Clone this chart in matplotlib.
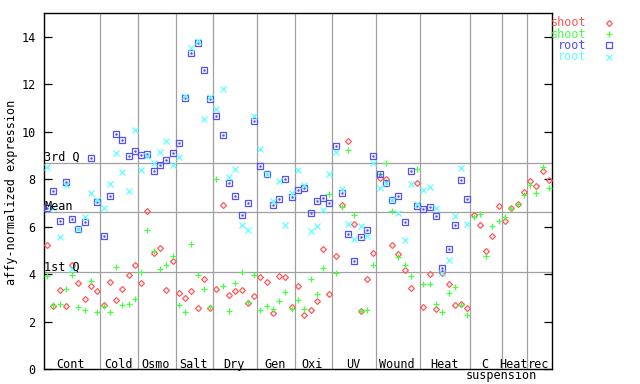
import matplotlib
matplotlib.use('Agg')
import matplotlib.pyplot as plt
from matplotlib.lines import Line2D
import numpy as np

plt.rcParams['font.family'] = ['DejaVu Sans Mono']

# groups of samples along x (shoot has all, root only up to Heat)
group_names = ['Cont', 'Cold', 'Osmo', 'Salt', 'Dry', 'Gen', 'Oxi', 'UV',
               'Wound', 'Heat', 'C', 'Heat', 'rec']
group_sizes = [9, 6, 6, 6, 7, 6, 6, 7, 7, 8, 5, 4, 4]

shoot_a = [5.22, 2.64, 3.33, 2.65, 4.39, 3.63, 2.95, 3.50, 3.29,
           2.68, 3.67, 2.91, 3.37, 3.95, 4.37,
           3.61, 6.65, 4.88, 5.09, 3.32, 4.54,
           3.19, 2.98, 3.28, 2.56, 3.78, 2.56,
           3.39, 6.90, 3.11, 3.28, 3.32, 2.76, 3.07,
           3.87, 3.66, 2.35, 3.91, 3.87, 2.61,
           3.49, 2.26, 2.47, 2.85, 5.05, 3.15,
           4.75, 6.90, 9.60, 6.10, 2.43, 3.78, 4.88,
           8.04, 8.00, 5.22, 4.84, 4.16, 3.40, 7.83,
           2.60, 3.99, 2.52, 4.03, 3.57, 2.69, 2.74, 2.56,
           6.49, 6.06, 4.96, 5.60, 6.86,
           6.23, 6.78, 6.97, 7.45,
           7.92, 7.70, 8.34, 7.96]
shoot_b = [3.91, 2.70, 2.74, 3.37, 3.95, 2.62, 2.49, 3.71, 2.40,
           2.65, 2.40, 4.29, 2.68, 2.74, 2.95,
           4.08, 5.85, 4.98, 4.20, 4.37, 4.75,
           2.70, 2.39, 5.26, 3.95, 3.36, 2.62,
           8.00, 3.49, 2.43, 3.61, 4.08, 2.83, 3.95,
           2.47, 2.65, 2.53, 2.85, 3.23, 2.52,
           2.90, 2.53, 3.78, 3.15, 4.25, 7.37,
           4.03, 6.84, 9.22, 6.48, 2.45, 2.47, 4.37,
           8.21, 8.67, 6.65, 4.71, 4.37, 3.91, 8.42,
           3.57, 3.57, 2.74, 2.39, 3.19, 3.44, 2.70, 2.26,
           6.40, 6.52, 4.75, 6.02, 6.23,
           6.40, 6.78, 6.95, 7.33,
           7.75, 7.41, 8.52, 7.62]
root_a = [6.78, 7.49, 6.23, 7.87, 6.31, 5.89, 6.19, 8.89, 7.04,
          5.60, 7.30, 9.90, 9.64, 8.97, 9.18,
          9.01, 9.05, 8.34, 8.59, 8.80, 9.10,
          9.52, 11.42, 13.31, 13.74, 12.60, 11.37,
          10.66, 9.86, 7.83, 7.28, 6.48, 6.99, 10.45,
          8.55, 8.21, 6.90, 7.16, 8.00, 7.24,
          7.54, 7.62, 6.57, 7.07, 7.20, 6.99,
          9.39, 7.41, 5.68, 4.55, 5.55, 5.85, 8.97,
          8.21, 7.83, 7.11, 7.28, 6.19, 8.34, 6.88,
          6.73, 6.82, 6.44, 4.25, 5.05, 6.06, 7.96, 7.16]
root_b = [8.52, 6.78, 5.57, 7.75, 4.22, 5.89, 6.40, 7.41, 7.13,
          6.78, 7.79, 9.10, 8.29, 7.49, 10.07,
          8.38, 8.97, 8.67, 9.14, 9.60, 8.59,
          8.93, 11.50, 13.53, 13.82, 10.53, 11.47,
          10.95, 11.80, 8.08, 8.42, 6.06, 5.85, 10.66,
          9.26, 8.21, 7.07, 7.92, 6.06, 7.41,
          8.38, 7.75, 5.81, 6.02, 6.69, 8.21,
          9.14, 7.58, 6.10, 5.47, 6.02, 5.60, 8.67,
          7.62, 7.83, 7.11, 6.57, 5.43, 7.79, 6.95,
          7.54, 7.66, 6.78, 4.03, 4.58, 6.44, 8.46, 6.10]

quart_names = ['3rd Q', 'Mean', '1st Q']
quart_vals = [8.69, 6.62, 4.09]

series = [
    ('shoot', shoot_a, '#ff5858', 'D', 3.0),
    ('shoot', shoot_b, '#48ff48', '+', 5.0),
    ('root', root_a, '#5050ff', 's', 3.8),
    ('root', root_b, '#60ffff', 'x', 4.0),
]

fs = 8.5
fig = plt.figure(figsize=(6.4, 3.84), dpi=100)
ax = fig.add_axes([44/640, 15/384, 508/640, 356/384])

n = sum(group_sizes)
bounds = np.cumsum(group_sizes)
grey = '#a0a0a0'
for b in bounds[:-1]:
    ax.axvline(b, color=grey, lw=0.9, zorder=1)
for name, v in zip(quart_names, quart_vals):
    ax.axhline(v, color=grey, lw=0.9, zorder=1)
    ax.text(0.05, v + 0.08, name, fontsize=fs, ha='left', va='baseline', zorder=5)

for name, vals, col, mk, ms in series:
    x = np.arange(len(vals)) + 0.5
    ax.plot(x, vals, ls='none', marker=mk, ms=ms, mfc='none', mec=col,
            mew=0.9, zorder=3)
    if mk == 's':
        ax.plot(x, vals, ls='none', marker='.', ms=1.5, color=col, zorder=3)

starts = np.concatenate([[0], bounds[:-1]])
for name, s, k in zip(group_names, starts, group_sizes):
    ax.text(s + k/2 - 0.2, 0.06, name, fontsize=fs, ha='center', va='baseline')
ax.text(bounds[10], -0.42, 'suspension', fontsize=fs, ha='center',
        va='baseline', clip_on=False)

ax.set_xlim(0, n)
ax.set_ylim(0, 15)
ax.set_xticks([])
ax.set_yticks(range(0, 15, 2))
ax.tick_params(axis='y', direction='in', length=6, width=0.9, right=True,
               labelsize=fs, pad=6)
for sp in ax.spines.values():
    sp.set_linewidth(1.0)
fig.text(12/640, 0.5, 'affy-normalized expression', fontsize=fs,
         rotation=90, ha='center', va='center')

# legend at upper right outside the axes
leg_y = [23, 34.3, 45.3, 56.7]
for (name, vals, col, mk, ms), yy in zip(series, leg_y):
    fy = 1 - yy/384
    fig.text(586/640, fy, name, color=col, fontsize=fs, ha='right', va='center')
    fig.add_artist(Line2D([609/640], [fy], transform=fig.transFigure, ls='none',
                          marker=mk, ms=ms, mfc='none', mec=col, mew=0.9))

fig.savefig('out.png', dpi=100)
